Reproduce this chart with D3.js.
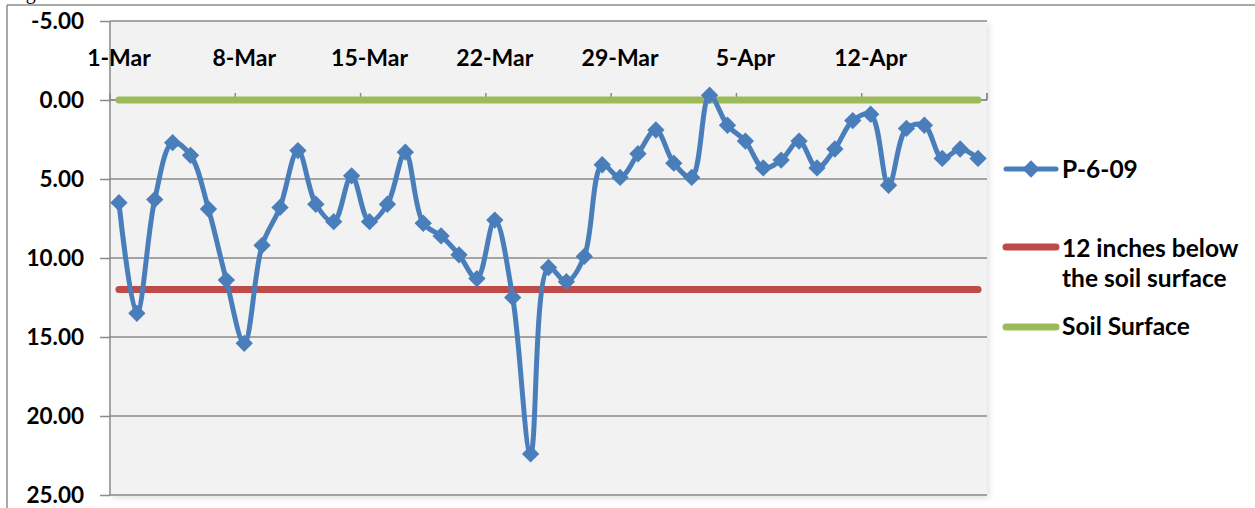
<!DOCTYPE html>
<html>
<head>
<meta charset="utf-8">
<script src="https://cdn.jsdelivr.net/npm/d3@7"></script>
<style>
    body {margin: 0; background: #fff;}
    text {font-family: Lato, "Open Sans", sans-serif; font-weight: bold; fill: #000;}
</style>
</head>
<body>
<svg id="chart" width="1255" height="508"></svg>
<script>
// categories, one per day
const dates = [
    "1-Mar", "2-Mar", "3-Mar", "4-Mar", "5-Mar", "6-Mar", "7-Mar", "8-Mar", "9-Mar", "10-Mar",
    "11-Mar", "12-Mar", "13-Mar", "14-Mar", "15-Mar", "16-Mar", "17-Mar", "18-Mar", "19-Mar", "20-Mar",
    "21-Mar", "22-Mar", "23-Mar", "24-Mar", "25-Mar", "26-Mar", "27-Mar", "28-Mar", "29-Mar", "30-Mar",
    "31-Mar", "1-Apr", "2-Apr", "3-Apr", "4-Apr", "5-Apr", "6-Apr", "7-Apr", "8-Apr", "9-Apr",
    "10-Apr", "11-Apr", "12-Apr", "13-Apr", "14-Apr", "15-Apr", "16-Apr", "17-Apr", "18-Apr"
];
// depth to water, P-6-09
const p609 = [
    6.5, 13.5, 6.3, 2.7, 3.5, 6.9, 11.4, 15.4, 9.2, 6.8,
    3.2, 6.6, 7.7, 4.8, 7.7, 6.6, 3.3, 7.8, 8.6, 9.8,
    11.3, 7.6, 12.5, 22.4, 10.6, 11.5, 9.9, 4.1, 4.9, 3.4,
    1.9, 4.0, 4.9, -0.3, 1.6, 2.6, 4.3, 3.8, 2.6, 4.3,
    3.1, 1.3, 0.9, 5.4, 1.8, 1.6, 3.7, 3.1, 3.7
];
const twelveInches = 12;
const soilSurface = 0;
const xTickLabels = ["1-Mar", "8-Mar", "15-Mar", "22-Mar", "29-Mar", "5-Apr", "12-Apr"];
const yTicks = [-5, 0, 5, 10, 15, 20, 25];
const seriesNames = [["P-6-09"], ["12 inches below", "the soil surface"], ["Soil Surface"]];

const colors = {blue: "#4a7ebb", red: "#be4b48", green: "#9bbb59", grid: "#8a8a8a"};

const svg = d3.select("#chart");
const plot = {left: 110, right: 987, top: 21, bottom: 495};

const x = d3.scaleBand().domain(dates).range([plot.left, plot.right]).padding(0);
const y = d3.scaleLinear().domain([-5, 25]).range([plot.top, plot.bottom]);
const cx = d => x(d) + x.bandwidth() / 2;

// outer frame of the chart object (caption above is cut off)
svg.append("line").attr("x1", 7).attr("x2", 1255).attr("y1", 5).attr("y2", 5)
    .attr("stroke", "#8c8c8c").attr("stroke-width", 1.5);
svg.append("line").attr("x1", 7).attr("x2", 7).attr("y1", 5).attr("y2", 508)
    .attr("stroke", "#8c8c8c").attr("stroke-width", 1.5);
svg.append("text").attr("x", 9).attr("y", -1)
    .style("font-family", "'Liberation Serif', serif").style("font-weight", "normal")
    .style("font-size", "20px").text("Figure");

// plot area
const defs = svg.append("defs");
defs.append("filter").attr("id", "shadow").attr("x", "-5%").attr("y", "-5%").attr("width", "110%").attr("height", "115%")
    .append("feDropShadow").attr("dx", 2).attr("dy", 3).attr("stdDeviation", 3)
    .attr("flood-color", "#000").attr("flood-opacity", 0.12);

svg.append("rect")
    .attr("x", plot.left).attr("y", plot.top)
    .attr("width", plot.right - plot.left).attr("height", plot.bottom - plot.top)
    .attr("fill", "#f2f2f2").attr("filter", "url(#shadow)");

// gridlines
svg.append("g").selectAll("line").data(yTicks).join("line")
    .attr("x1", plot.left).attr("x2", plot.right)
    .attr("y1", d => y(d)).attr("y2", d => y(d))
    .attr("stroke", colors.grid).attr("stroke-width", 1.5);

// value axis
const yAxis = svg.append("g").attr("transform", `translate(${plot.left},0)`)
    .call(d3.axisLeft(y).tickValues(yTicks).tickSize(10).tickPadding(16).tickFormat(d => d.toFixed(2)));
yAxis.select(".domain").remove();
yAxis.selectAll(".tick line").attr("stroke", colors.grid).attr("stroke-width", 1.5);
yAxis.selectAll("text").style("font-size", "22.5px").style("font-family", null);
svg.append("line").attr("x1", plot.left).attr("x2", plot.left).attr("y1", plot.top).attr("y2", plot.bottom)
    .attr("stroke", colors.grid).attr("stroke-width", 1.5);

// date axis, crossing at 0
const xAxis = svg.append("g").attr("transform", `translate(0,${y(0)})`)
    .call(d3.axisTop(x).tickValues(xTickLabels).tickSize(0).tickPadding(34));
xAxis.select(".domain").remove();
xAxis.selectAll("text").style("font-size", "23px").style("font-family", null);

const boundaries = d3.range(0, dates.length + 1, 7).concat([dates.length]);
svg.append("line").attr("x1", plot.left).attr("x2", plot.right).attr("y1", y(0)).attr("y2", y(0))
    .attr("stroke", colors.grid).attr("stroke-width", 1.5);
svg.append("g").selectAll("line").data(boundaries).join("line")
    .attr("x1", i => plot.left + i * x.step()).attr("x2", i => plot.left + i * x.step())
    .attr("y1", y(0)).attr("y2", y(0) - 7)
    .attr("stroke", colors.grid).attr("stroke-width", 1.5);

// reference lines
const refLine = d3.line().x(d => cx(d[0])).y(d => y(d[1]));
svg.append("path")
    .attr("d", refLine(dates.map(d => [d, twelveInches])))
    .attr("fill", "none").attr("stroke", colors.red).attr("stroke-width", 7).attr("stroke-linecap", "round");
svg.append("path")
    .attr("d", refLine(dates.map(d => [d, soilSurface])))
    .attr("fill", "none").attr("stroke", colors.green).attr("stroke-width", 7).attr("stroke-linecap", "round");

// P-6-09 series, smoothed
const smooth = d3.line().x((d, i) => cx(dates[i])).y(d => y(d)).curve(d3.curveCatmullRom.alpha(0.5));
svg.append("path")
    .attr("d", smooth(p609))
    .attr("fill", "none").attr("stroke", colors.blue).attr("stroke-width", 5)
    .attr("stroke-linejoin", "round");

const diamond = d3.symbol().type(d3.symbolSquare).size(150);
svg.append("g").selectAll("path").data(p609).join("path")
    .attr("transform", (d, i) => `translate(${cx(dates[i])},${y(d)}) rotate(45)`)
    .attr("d", diamond)
    .attr("fill", colors.blue);

// legend
const legend = svg.append("g").attr("transform", "translate(1003,0)");
const legendRows = [
    {color: colors.blue, ly: 169, lines: seriesNames[0], ty: [178], marker: true},
    {color: colors.red, ly: 247, lines: seriesNames[1], ty: [257, 287], marker: false},
    {color: colors.green, ly: 327, lines: seriesNames[2], ty: [335], marker: false}
];
legendRows.forEach(row => {
    legend.append("line").attr("x1", 3).attr("x2", 53).attr("y1", row.ly).attr("y2", row.ly)
        .attr("stroke", row.color).attr("stroke-width", row.marker ? 5 : 7).attr("stroke-linecap", "round");
    if (row.marker) {
        legend.append("path").attr("transform", `translate(28,${row.ly}) rotate(45)`)
            .attr("d", diamond).attr("fill", row.color);
    }
    row.lines.forEach((t, i) => {
        legend.append("text").attr("x", 59).attr("y", row.ty[i]).style("font-size", "24.5px").text(t);
    });
});
</script>
</body>
</html>
